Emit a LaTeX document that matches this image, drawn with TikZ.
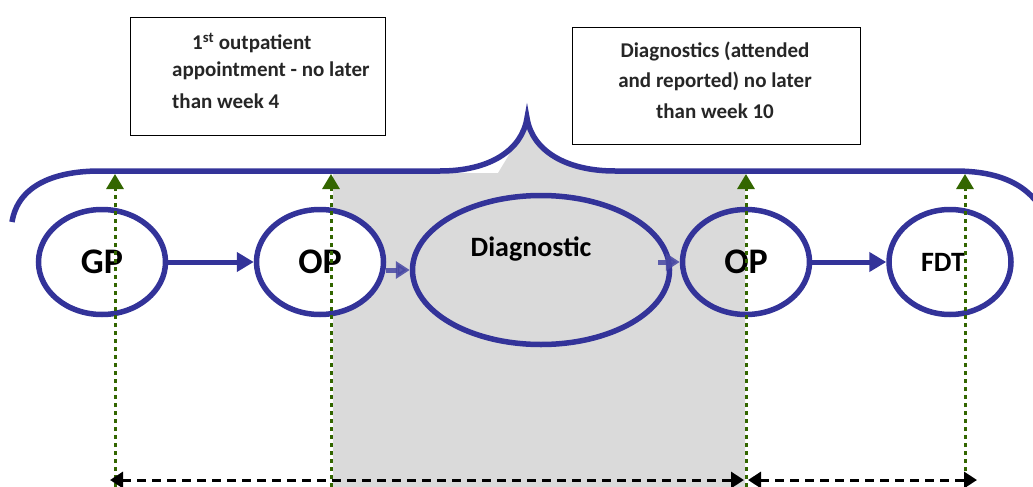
\documentclass[tikz,border=0pt]{standalone}
\usepackage{fontspec}
\setmainfont{Carlito}
\usetikzlibrary{arrows.meta,shapes.geometric}
\definecolor{pblue}{RGB}{51,51,153}
\definecolor{pgreen}{RGB}{51,102,0}
\definecolor{pgray}{RGB}{218,218,218}
\definecolor{ptext}{RGB}{38,38,38}
\begin{document}
\begin{tikzpicture}[x=1pt,y=-1pt,
  stage/.style={ellipse, draw=pblue, line width=5.5pt, minimum width=127pt, minimum height=105pt, inner sep=0pt, font=\fontsize{36}{40}\selectfont\bfseries},
  flow/.style={draw=pblue, line width=5pt, -{Triangle[length=17pt,width=19pt]}},
  faded/.style={draw=pblue!90!white, opacity=0.85, line width=5pt, -{Triangle[length=14pt,width=17pt]}},
  marker/.style={draw=pgreen, line width=3pt, dash pattern=on 4pt off 4pt, -{Triangle[length=15pt,width=17pt]}},
  span/.style={draw=black, line width=3pt, dash pattern=on 9pt off 6pt, {Triangle[length=13pt,width=16pt]}-{Triangle[length=13pt,width=16pt]}},
  note/.style={draw=black, line width=1.5pt, rectangle, inner sep=0pt},
  notetext/.style={anchor=base, text=ptext, font=\fontsize{21}{25}\selectfont\bfseries, inner sep=0pt},
  label28/.style={anchor=base, inner sep=0pt, font=\fontsize{28}{32}\selectfont\bfseries},
  brace/.style={draw=pblue, line width=5.5pt}
]
\useasboundingbox (0,0) rectangle (1033,487);
\clip (0,0) rectangle (1033,487);
% grey band
\fill[pgray] (333,173) -- (498,173) -- (527,125) .. controls (532,150) and (565,171) .. (615,171) -- (745,171) -- (745,487) -- (333,487) -- cycle;
% brace
\draw[brace] (12,222) .. controls (18,185) and (55,171) .. (100,171) -- (440,171)
  .. controls (490,171) and (522,150) .. (527,118)
  .. controls (532,150) and (565,171) .. (615,171) -- (955,171)
  .. controls (1000,171) and (1030,185) .. (1045,215);
% notes
\node[note, minimum width=255pt, minimum height=118pt] (box1) at (258,76.5) {};
\node[note, minimum width=288pt, minimum height=117pt] (box2) at (716.5,86) {};
\node[notetext, anchor=base west] (n1a) at (192,50) {1\textsuperscript{st} outpatient};
\node[notetext, anchor=base west] (n1b) at (172,77) {appointment - no later};
\node[notetext, anchor=base west] (n1c) at (172,108) {than week 4};
\node[notetext] (n2a) at (715,58) {Diagnostics (attended};
\node[notetext] (n2b) at (715,88) {and reported) no later};
\node[notetext] (n2c) at (715,118) {than week 10};
% stages
\node[stage, fill=white] (gp) at (102,262) {GP};
\node[stage, fill=white] (op1) at (320,262) {OP};
\node[stage, minimum width=257pt, minimum height=149pt] (diag) at (541,270) {};
\node[label28] (diagtext) at (531,256) {Diagnostic};
\node[stage] (op2) at (746,262) {OP};
\node[stage, fill=white, minimum width=122pt] (fdt) at (950,262) {};
\node[label28] (fdttext) at (943,271) {FDT};
% flow arrows
\draw[flow] (gp) -- (op1);
\draw[faded] (op1.east |- diag.west) -- (diag.west);
\draw[faded] ([xshift=-14pt]diag.east |- op2.west) -- (op2.west);
\draw[flow] (op2) -- (fdt);
% markers
\coordinate (m1b) at (115,487); \coordinate (m1t) at (115,174);
\coordinate (m2b) at (331,487); \coordinate (m2t) at (331,174);
\coordinate (m3b) at (746,487); \coordinate (m3t) at (746,174);
\coordinate (m4b) at (965,487); \coordinate (m4t) at (965,174);
\draw[marker] (m1b) -- (m1t);
\draw[marker] (m2b) -- (m2t);
\draw[marker] (m3b) -- (m3t);
\draw[marker] (m4b) -- (m4t);
% spans
\coordinate (s1) at (110,480); \coordinate (s2) at (744,480);
\coordinate (s3) at (748,480); \coordinate (s4) at (977,480);
\draw[span] (s1) -- (s2);
\draw[span] (s3) -- (s4);
\end{tikzpicture}
\end{document}
